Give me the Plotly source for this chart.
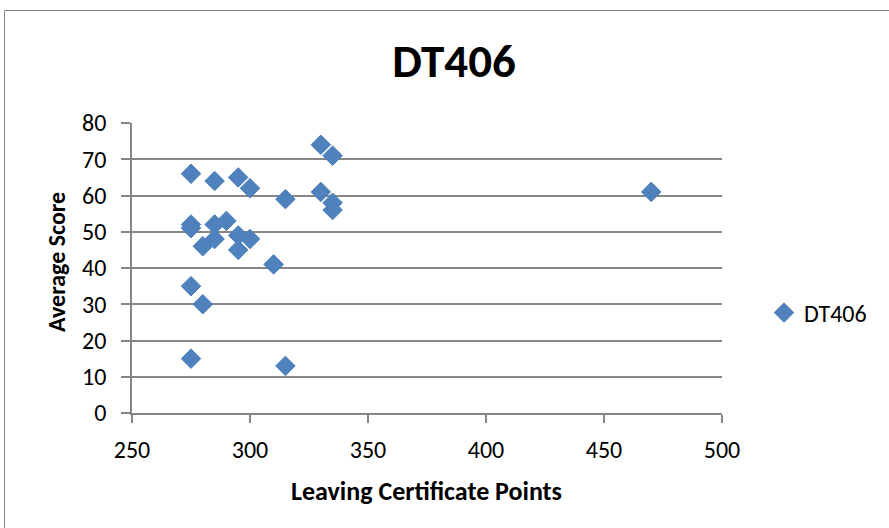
import plotly.graph_objects as go

series_name = "DT406"
lc_points = [275, 285, 295, 300, 315, 330, 335, 330, 335, 335, 470,
             275, 275, 285, 290, 285, 280, 295, 300, 295, 310,
             275, 280, 275, 315]
avg_score = [66, 64, 65, 62, 59, 74, 71, 61, 58, 56, 61,
             52, 51, 52, 53, 48, 46, 49, 48, 45, 41,
             35, 30, 15, 13]
x_ticks = [250, 300, 350, 400, 450, 500]
y_ticks = [0, 10, 20, 30, 40, 50, 60, 70, 80]

FONT = "Carlito, Calibri, 'Liberation Sans Narrow', 'Liberation Sans', sans-serif"
GRAY = "#868686"

fig = go.Figure()
fig.add_trace(go.Scatter(
    x=lc_points, y=avg_score, mode="markers", name=series_name,
    marker=dict(symbol="diamond", size=15, color="#4F81BD",
                line=dict(color="#4A7EBB", width=1)),
))

L, R, T, B = 132, 722, 123, 413
W, H = 889, 528
pw, ph = R - L, B - T

def px_x(p):
    return (p - L) / pw

def px_y(p):
    return (B - p) / ph

fig.update_layout(
    width=W, height=H,
    margin=dict(l=L, r=W - R, t=T, b=H - B, pad=0),
    paper_bgcolor="white", plot_bgcolor="white",
    font=dict(family=FONT, size=24, color="black"),
    title=dict(text="<b>DT406</b>", x=454 / W, xanchor="center",
               y=1 - 61 / H, yanchor="middle",
               font=dict(size=47, family=FONT)),
    showlegend=True,
    legend=dict(x=px_x(764), y=px_y(313), xanchor="left", yanchor="middle",
                font=dict(size=24, family=FONT), bgcolor="rgba(0,0,0,0)",
                borderwidth=0),
    xaxis=dict(range=[250, 500], tickvals=x_ticks, showgrid=False,
               showline=True, linecolor=GRAY, linewidth=1.5,
               ticks="outside", ticklen=8, tickcolor=GRAY, tickwidth=1.5,
               zeroline=False, ticklabelstandoff=6,
               tickfont=dict(size=24, family=FONT)),
    yaxis=dict(range=[0, 80], tickvals=y_ticks, showgrid=True,
               gridcolor=GRAY, gridwidth=1.5,
               showline=True, linecolor=GRAY, linewidth=1.5,
               ticks="outside", ticklen=9, tickcolor=GRAY, tickwidth=1.5,
               zeroline=False, ticklabelstandoff=10,
               tickfont=dict(size=24, family=FONT)),
    annotations=[
        dict(text="<b>Leaving Certificate Points</b>", xref="paper", yref="paper",
             x=px_x(426), y=px_y(491), xanchor="center", yanchor="middle",
             showarrow=False, font=dict(size=26, family=FONT)),
        dict(text="<b>Average Score</b>", xref="paper", yref="paper",
             x=px_x(56), y=px_y(262), xanchor="center", yanchor="middle",
             textangle=-90, showarrow=False, font=dict(size=24, family=FONT)),
    ],
    shapes=[dict(type="rect", xref="paper", yref="paper",
                 x0=px_x(4.5), x1=px_x(905),
                 y0=px_y(545), y1=px_y(10.5),
                 line=dict(color=GRAY, width=1), layer="below")],
)

fig.write_html("out.html")
